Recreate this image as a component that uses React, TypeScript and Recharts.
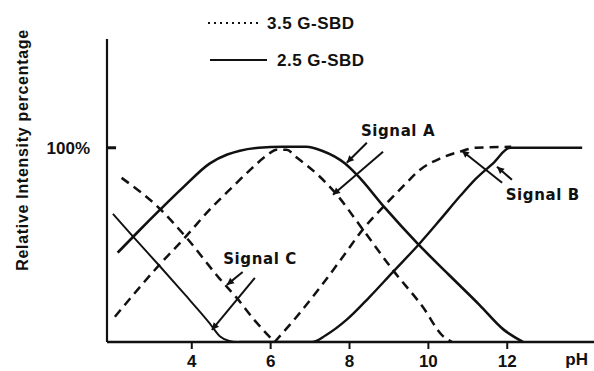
// pH response of signals A, B and C for the 2.5 and 3.5 G-SBD dendrimers.
// Solid lines are the 2.5 generation, dashed lines the 3.5 generation.
import { ComposedChart, Line, XAxis, YAxis, ReferenceLine, ReferenceDot, Label } from 'recharts';

const INK = '#111111';
const SANS = '"Liberation Sans", Arial, sans-serif';
const HAND = '"DejaVu Sans", sans-serif';

// pH ticks on the x axis
const PH_TICKS = [4, 6, 8, 10, 12];
const PCT_TICKS = [100];

// 2.5 G-SBD (solid)
const solidA_ph = [2.12, 2.6, 3.19, 3.8, 4.46, 4.9, 5.22, 5.7, 6.3, 6.9, 7.3, 7.88, 8.19, 8.9, 9.71, 10.5, 11.3, 11.9, 12.4];
const solidA_val = [46, 56, 68, 80, 92, 96.5, 98.5, 100, 100.5, 100.5, 98.5, 92, 86, 69, 51, 35, 19, 6.5, 0];
const solidB_ph = [5.2, 7.05, 7.4, 7.93, 8.5, 9.08, 9.79, 10.3, 10.8, 11.2, 11.64, 12.07, 13.9];
const solidB_val = [0, 0, 3.5, 11.5, 23, 35.6, 51, 63, 75, 84, 92, 100, 100];
const solidC_ph = [2.0, 2.5, 3.19, 3.8, 4.46, 4.71, 4.95, 5.2];
const solidC_val = [66, 54.5, 39, 25, 9.5, 3, 0.6, 0];

// 3.5 G-SBD (dashed)
const dashA_ph = [2.05, 3.19, 3.82, 4.4, 5.04, 5.5, 5.9, 6.15, 6.4, 6.66, 7.2, 7.63, 8.3, 9.1, 9.86, 10.37, 10.6];
const dashA_val = [13, 40, 53.6, 67, 80, 89, 96, 99, 99, 95, 86, 77, 59, 37, 18, 3, 0];
const dashB_ph = [6.1, 6.66, 7.25, 7.8, 8.34, 8.95, 9.4, 9.79, 10.3, 10.8, 11.2, 12.1];
const dashB_val = [0, 13, 28, 43, 58, 71.6, 81, 88.7, 94.5, 98, 100, 100.5];
const dashC_ph = [2.22, 3.19, 3.87, 4.71, 5.14, 5.6, 6.1];
const dashC_val = [84.5, 68.6, 53.6, 32.5, 22.7, 11, 0];

// annotation arrows (data coordinates), tail -> head
const arrowFromPh = [8.44, 8.85, 11.87, 12.12, 5.29, 5.6];
const arrowFromVal = [102.6, 97.9, 82, 83.5, 36, 33];
const arrowToPh = [7.93, 7.58, 10.85, 11.74, 4.89, 4.51];
const arrowToVal = [92.3, 75.8, 98.5, 90.2, 29.4, 6.2];

const signalNames = ['Signal A', 'Signal B', 'Signal C'];
const signalPh = [9.23, 12.9, 5.73];
const signalVal = [108.8, 75.8, 42.8];

const pts = (ph: number[], v: number[]) => ph.map((x, i) => ({ ph: x, v: v[i] }));

const series = [
  { key: 'sA', data: pts(solidA_ph, solidA_val), dash: undefined, w: 2.6 },
  { key: 'sB', data: pts(solidB_ph, solidB_val), dash: undefined, w: 2.4 },
  { key: 'sC', data: pts(solidC_ph, solidC_val), dash: undefined, w: 1.9 },
  { key: 'dA', data: pts(dashA_ph, dashA_val), dash: '9 6', w: 2.5 },
  { key: 'dB', data: pts(dashB_ph, dashB_val), dash: '9 6', w: 2.5 },
  { key: 'dC', data: pts(dashC_ph, dashC_val), dash: '9 6', w: 2.5 },
];

const Arrow = (props: any) => {
  const { x1, y1, x2, y2 } = props;
  const ang = Math.atan2(y2 - y1, x2 - x1);
  const L = 7;
  const W = 3.5;
  const bx = x2 - L * Math.cos(ang);
  const by = y2 - L * Math.sin(ang);
  const px = -Math.sin(ang) * W;
  const py = Math.cos(ang) * W;
  return (
    <g>
      <line x1={x1} y1={y1} x2={x2} y2={y2} stroke={INK} strokeWidth={2} />
      <polygon points={`${x2},${y2} ${bx + px},${by + py} ${bx - px},${by - py}`} fill={INK} />
    </g>
  );
};

const YTitle = (props: any) => {
  const vb = props.viewBox;
  const cx = vb.x - 25;
  const cy = vb.y + 111;
  return (
    <text
      transform={`translate(${cx}, ${cy}) rotate(-90)`}
      textAnchor="middle"
      dominantBaseline="central"
      fontFamily={SANS}
      fontWeight="bold"
      fontSize={16}
      letterSpacing={0.7}
      fill={INK}
    >
      Relative Intensity percentage
    </text>
  );
};

function LegendOverlay() {
  const rows = [
    { label: '3.5 G-SBD', y: 23, x1: 208, x2: 262, tx: 267, dash: '2 4' },
    { label: '2.5 G-SBD', y: 60, x1: 210, x2: 267, tx: 277, dash: undefined },
  ];
  return (
    <svg width={594} height={80} style={{ position: 'absolute', left: 0, top: 0 }}>
      {rows.map((r) => (
        <g key={r.label}>
          <line x1={r.x1} x2={r.x2} y1={r.y} y2={r.y} stroke={INK} strokeWidth={2} strokeDasharray={r.dash} />
          <text x={r.tx} y={r.y} dominantBaseline="central" fontFamily={SANS} fontWeight="bold" fontSize={17} letterSpacing={0.5} fill={INK}>
            {r.label}
          </text>
        </g>
      ))}
    </svg>
  );
}

export default function App() {
  return (
    <div style={{ position: 'absolute', left: 0, top: 0, width: 594, height: 371, background: '#fff' }}>
      <ComposedChart width={594} height={371} margin={{ top: 39, right: 0, bottom: 0, left: 47 }}>
        <XAxis
          type="number"
          dataKey="ph"
          domain={[1.85, 14.2]}
          ticks={PH_TICKS}
          allowDataOverflow
          height={29}
          axisLine={{ stroke: INK, strokeWidth: 2.6 }}
          tickLine={{ stroke: INK, strokeWidth: 2 }}
          tickSize={7}
          tickMargin={6}
          tick={{ fill: INK, fontFamily: SANS, fontWeight: 'bold', fontSize: 17 }}
        >
          <Label value="pH" position="insideBottomRight" offset={6} dy={0} fill={INK} fontFamily={SANS} fontWeight="bold" fontSize={17} />
        </XAxis>
        <YAxis
          type="number"
          domain={[0, 156]}
          ticks={PCT_TICKS}
          allowDataOverflow
          width={60}
          axisLine={{ stroke: INK, strokeWidth: 2.2 }}
          tickLine={false}
          tickSize={8}
          tickMargin={9}
          tickFormatter={(v: number) => `${v}%`}
          tick={{ fill: INK, fontFamily: SANS, fontWeight: 'bold', fontSize: 17 }}
        >
          <Label content={YTitle} />
        </YAxis>
        {/* inward tick at 100% */}
        <ReferenceLine
          segment={[{ x: 1.85, y: 100 }, { x: 2.08, y: 100 }]}
          stroke={INK}
          strokeWidth={3}
        />
        {series.map((s) => (
          <Line
            key={s.key}
            data={s.data}
            dataKey="v"
            type="monotone"
            stroke={INK}
            strokeWidth={s.w}
            strokeDasharray={s.dash}
            dot={false}
            activeDot={false}
            isAnimationActive={false}
          />
        ))}
        {arrowFromPh.map((x, i) => (
          <ReferenceLine
            key={`arr${i}`}
            segment={[{ x, y: arrowFromVal[i] }, { x: arrowToPh[i], y: arrowToVal[i] }]}
            shape={Arrow}
          />
        ))}
        {signalNames.map((name, i) => (
          <ReferenceDot
            key={name}
            x={signalPh[i]}
            y={signalVal[i]}
            r={0}
            fill="none"
            stroke="none"
            label={{ value: name, position: 'center', fill: INK, fontFamily: HAND, fontSize: 15, fontWeight: 'bold', letterSpacing: 0.6 }}
          />
        ))}
      </ComposedChart>
      <LegendOverlay />
    </div>
  );
}
